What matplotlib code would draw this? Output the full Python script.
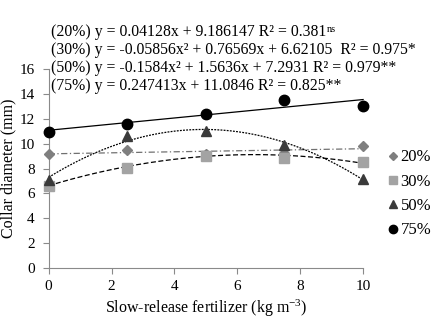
import matplotlib
matplotlib.use('Agg')
import matplotlib.pyplot as plt
import numpy as np

plt.rcParams['font.family'] = ['Liberation Serif', 'DejaVu Serif']
plt.rcParams['mathtext.fontset'] = 'custom'
plt.rcParams['mathtext.rm'] = 'Liberation Serif'
plt.rcParams['mathtext.it'] = 'Liberation Serif:italic'

fert = [0, 2.5, 5, 7.5, 10]
d20 = [9.2, 9.5, 9.2, 9.25, 9.8]
d30 = [6.6, 8.05, 9.0, 8.85, 8.5]
d50 = [7.1, 10.6, 11.0, 9.9, 7.2]
d75 = [10.95, 11.55, 12.4, 13.55, 13.05]

# trendline coefficients (c2, c1, c0)
fit20 = [0.0, 0.04128, 9.186147]
fit30 = [-0.05856, 0.76569, 6.62105]
fit50 = [-0.1584, 1.5636, 7.2931]
fit75 = [0.0, 0.247413, 11.0846]

labels = ['20%', '30%', '50%', '75%']
equations = [
    '(20%) y = 0.04128x + 9.186147 R² = 0.381',
    '(30%) y = -0.05856x² + 0.76569x + 6.62105  R² = 0.975*',
    '(50%) y = -0.1584x² + 1.5636x + 7.2931 R² = 0.979**',
    '(75%) y = 0.247413x + 11.0846 R² = 0.825**',
]

fig = plt.figure(figsize=(4.38, 3.22), dpi=100)
ax = fig.add_axes([0.111, 0.168, 0.718, 0.617])

series = [d20, d30, d50, d75]
fits = [fit20, fit30, fit50, fit75]
markers = ['D', 's', '^', 'o']
msizes = [5, 7, 7, 7.5]
colors = ['#7f7f7f', '#a3a3a3', '#3a3a3a', '#000000']
lstyles = [(0, (5, 2, 1, 2)), (0, (4, 2)), (0, (1.5, 1)), '-']
lcolors = ['#707070', '#000000', '#000000', '#000000']

xs = np.linspace(0, 10, 200)
handles = []
for ys, fit, m, ms, c, ls, lc, lab in zip(series, fits, markers, msizes,
                                          colors, lstyles, lcolors, labels):
    ax.plot(xs, fit[0] * xs ** 2 + fit[1] * xs + fit[2], color=lc,
            linestyle=ls, linewidth=0.9, clip_on=False)
    h, = ax.plot(fert, ys, linestyle='none', marker=m, markersize=ms,
                 color=c, clip_on=False, zorder=3, label=lab)
    handles.append(h)

ax.set_xlim(0, 10)
ax.set_ylim(0, 16)
ax.set_xticks(np.arange(0, 11, 2))
ax.set_yticks(np.arange(0, 17, 2))
for s in ['top', 'right']:
    ax.spines[s].set_visible(False)
for s in ['left', 'bottom']:
    ax.spines[s].set_color('#8a8a8a')
    ax.spines[s].set_linewidth(0.8)
ax.tick_params(colors='#8a8a8a', labelcolor='black', labelsize=11,
               length=4, width=0.8)
ax.tick_params(axis='x', pad=5)
ax.tick_params(axis='y', pad=6)
ax.set_xlabel('Slow-release fertilizer (kg m$^{-3}$)', fontsize=11.5, labelpad=3)
ax.set_ylabel('Collar diameter (mm)', fontsize=11.5, labelpad=2)

eq_y = [0.901, 0.845, 0.789, 0.733]
eq_texts = []
for txt, y in zip(equations, eq_y):
    eq_texts.append(fig.text(0.116, y, txt, fontsize=11.3,
                             va='center', ha='left'))

# small raised "ns" after the first equation
fig.canvas.draw()
bb = eq_texts[0].get_window_extent().transformed(fig.transFigure.inverted())
fig.text(bb.x1 + 0.002, bb.y1 - 0.002, 'ns', fontsize=7.5, va='top', ha='left')

fig.legend(handles=handles, labels=labels, loc='center left',
           bbox_to_anchor=(0.888, 0.398), frameon=False, fontsize=12,
           handlelength=0.5, handletextpad=0.2, labelspacing=0.5,
           markerscale=0.8, borderaxespad=0, borderpad=0)

fig.savefig('out.png', dpi=100)
